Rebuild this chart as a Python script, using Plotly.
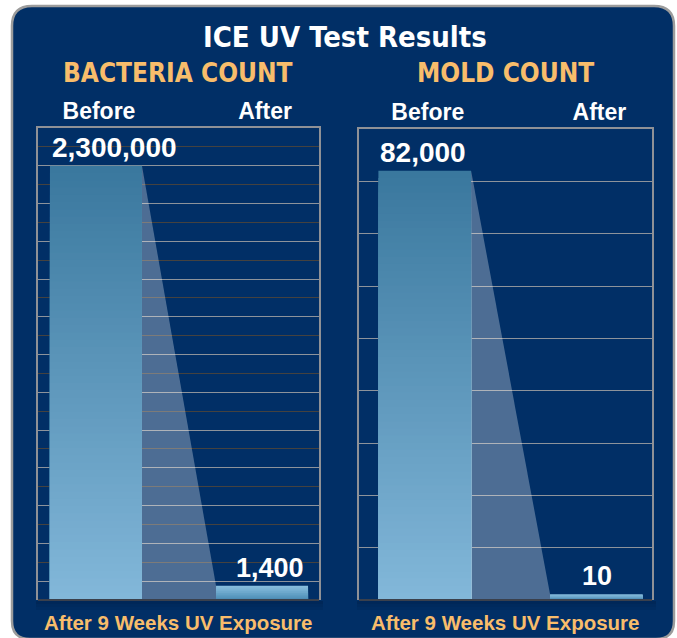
import plotly.graph_objects as go

# ---------------- data ----------------
title_text = "ICE UV Test Results"
panel_titles = ["BACTERIA COUNT", "MOLD COUNT"]
categories = ["Before", "After"]
bacteria_values = [2300000, 1400]
mold_values = [82000, 10]
bacteria_labels = ["2,300,000", "1,400"]
mold_labels = ["82,000", "10"]
footer_text = "After 9 Weeks UV Exposure"

# ---------------- style ----------------
W, H = 677, 638
NAVY = "#012f66"
ORANGE = "#f8bd6b"
GRID_LIGHT = "#8d939b"
GRID_DARK = "#45423f"
FRAME = "#8f9196"
COND = "Liberation Sans Narrow, DejaVu Sans Condensed, Arial Narrow, sans-serif"
SANS = "Liberation Sans, Arial, sans-serif"


def px_x(p):
    return p / W


def px_y(p):
    return 1 - p / H


def lerp_color(c1, c2, t):
    a = [int(c1[i:i + 2], 16) for i in (1, 3, 5)]
    b = [int(c2[i:i + 2], 16) for i in (1, 3, 5)]
    return "rgb(%d,%d,%d)" % tuple(round(a[k] + (b[k] - a[k]) * t) for k in range(3))


def gradient_bar(xpos, value, top_c, bot_c, n, width, xa, ya):
    # nested bars from zero, tallest first, so no seams appear between bands
    ks = list(range(n, 0, -1))
    heights = [value * k / n for k in ks]
    colors = [lerp_color(bot_c, top_c, (k - 1) / max(n - 1, 1)) for k in ks]
    return go.Bar(x=[xpos] * n, y=heights, width=width,
                  marker=dict(color=colors, line=dict(width=0)),
                  xaxis=xa, yaxis=ya, showlegend=False, hoverinfo="skip")


panels = [
    dict(values=bacteria_values, labels=bacteria_labels, xa="x", ya="y",
         ymax=2500000, dtick=100000, dark_every=200000, min_frac=0.03,
         xdom=(38, 319), ydom=(128, 600), xrange=(-0.349, 1.343), bw=0.554,
         title_x=178, after_xshift=8),
    dict(values=mold_values, labels=mold_labels, xa="x2", ya="y2",
         ymax=90000, dtick=10000, dark_every=None, min_frac=0.012,
         xdom=(359, 652), ydom=(129, 600), xrange=(-0.383, 1.324), bw=0.54,
         title_x=505, after_xshift=1),
]

fig = go.Figure()
annotations = []
shapes = []

# panel background
x0, x1, y0, y1, r, rb = 12, 674, 6, 639, 20, 18
path = (f"M {px_x(x0+r)},{px_y(y0)} L {px_x(x1-r)},{px_y(y0)} "
        f"Q {px_x(x1)},{px_y(y0)} {px_x(x1)},{px_y(y0+r)} "
        f"L {px_x(x1)},{px_y(y1-rb)} Q {px_x(x1)},{px_y(y1)} {px_x(x1-rb)},{px_y(y1)} "
        f"L {px_x(x0+rb)},{px_y(y1)} Q {px_x(x0)},{px_y(y1)} {px_x(x0)},{px_y(y1-rb)} "
        f"L {px_x(x0)},{px_y(y0+r)} Q {px_x(x0)},{px_y(y0)} {px_x(x0+r)},{px_y(y0)} Z")
shapes.append(dict(type="path", path=path, xref="paper", yref="paper",
                   fillcolor=NAVY, line=dict(color="#9c9c9c", width=2.5), layer="below"))

layout_axes = {}
for i, p in enumerate(panels):
    vals = p["values"]
    ymax = p["ymax"]
    min_disp = p["min_frac"] * ymax
    disp = [vals[0], max(vals[1], min_disp)]
    bw = p["bw"]
    xa, ya = p["xa"], p["ya"]
    # beam between bars
    fig.add_trace(go.Scatter(
        x=[bw / 2, 1 - bw / 2, 1 - bw / 2, bw / 2, bw / 2],
        y=[disp[0], disp[1], 0, 0, disp[0]],
        fill="toself", fillcolor="rgba(255,255,255,0.30)", mode="lines",
        line=dict(width=0), xaxis=xa, yaxis=ya, showlegend=False, hoverinfo="skip"))
    # bars
    fig.add_trace(gradient_bar(0, disp[0], "#3a789e", "#82b7d9", 60, bw, xa, ya))
    fig.add_trace(gradient_bar(1, disp[1], "#86bddd", "#4d8db6", 8, bw, xa, ya))

    # value labels
    annotations.append(dict(x=-bw / 2, y=disp[0], xref=xa, yref=ya, text=p["labels"][0],
                            showarrow=False, xanchor="left", yanchor="bottom", yshift=1,
                            font=dict(family=SANS, size=28, color="white", weight="bold")))
    annotations.append(dict(x=1, y=disp[1], xref=xa, yref=ya, text=p["labels"][1],
                            showarrow=False, xanchor="center", yanchor="bottom", yshift=1,
                            xshift=p["after_xshift"],
                            font=dict(family=SANS, size=27, color="white", weight="bold")))

    # bottom axis line and soft shadow
    shapes.append(dict(type="line", xref=f"{xa} domain", yref=f"{ya} domain",
                       x0=0, x1=1, y0=0, y1=0, line=dict(color="#3a404c", width=2)))
    for k, a in enumerate([0.22, 0.14, 0.07]):
        shapes.append(dict(type="rect", xref="paper", yref="paper",
                           x0=px_x(p["xdom"][0] - 2), x1=px_x(p["xdom"][1] + 4),
                           y0=px_y(p["ydom"][1] + 4 + 3 * k), y1=px_y(p["ydom"][1] + 1 + 3 * k),
                           fillcolor=f"rgba(0,15,40,{a})", line=dict(width=0), layer="below"))

    # panel title and footer
    annotations.append(dict(x=px_x(p["title_x"]), y=px_y(73), xref="paper", yref="paper",
                            text=panel_titles[i], showarrow=False, xanchor="center", yanchor="middle",
                            font=dict(family=COND, size=26, color=ORANGE, weight="bold")))
    annotations.append(dict(x=px_x(p["title_x"]), y=px_y(622), xref="paper", yref="paper",
                            text=footer_text, showarrow=False, xanchor="center", yanchor="middle",
                            font=dict(family=SANS, size=20.5, color=ORANGE, weight="bold")))

    suffix = "" if i == 0 else "2"
    grid_major = p["dark_every"] or p["dtick"]
    layout_axes["xaxis" + suffix] = dict(
        domain=[px_x(p["xdom"][0]), px_x(p["xdom"][1])], range=list(p["xrange"]),
        anchor=ya, side="top", tickmode="array", tickvals=[0, 1], ticktext=categories,
        tickfont=dict(family=SANS, size=23, color="white", weight="bold"),
        ticks="", ticklabelstandoff=-2, ticklabelshift=3, showgrid=False, zeroline=False,
        showline=True, linecolor=FRAME, linewidth=1.5, fixedrange=True)
    layout_axes["yaxis" + suffix] = dict(
        domain=[px_y(p["ydom"][1]), px_y(p["ydom"][0])], range=[0, ymax],
        anchor=xa, showticklabels=False, ticks="", tick0=0, dtick=grid_major,
        showgrid=True, gridcolor=GRID_DARK if p["dark_every"] else GRID_LIGHT, gridwidth=1.3,
        minor=dict(dtick=p["dtick"], showgrid=True, gridcolor=GRID_LIGHT, gridwidth=1.3),
        zeroline=False, showline=True, mirror=True, linecolor=FRAME, linewidth=1.5,
        fixedrange=True)

annotations.append(dict(x=px_x(345), y=px_y(37), xref="paper", yref="paper", text=title_text,
                        showarrow=False, xanchor="center", yanchor="middle",
                        font=dict(family=COND, size=29, color="white", weight="bold")))

fig.update_layout(
    width=W, height=H, margin=dict(l=0, r=0, t=0, b=0),
    paper_bgcolor="white", plot_bgcolor="rgba(0,0,0,0)",
    barmode="overlay", showlegend=False,
    annotations=annotations, shapes=shapes, **layout_axes)

fig.write_html("out.html", config={"displayModeBar": False},
               post_script="document.body.style.margin='0';document.body.style.overflow='hidden';")
